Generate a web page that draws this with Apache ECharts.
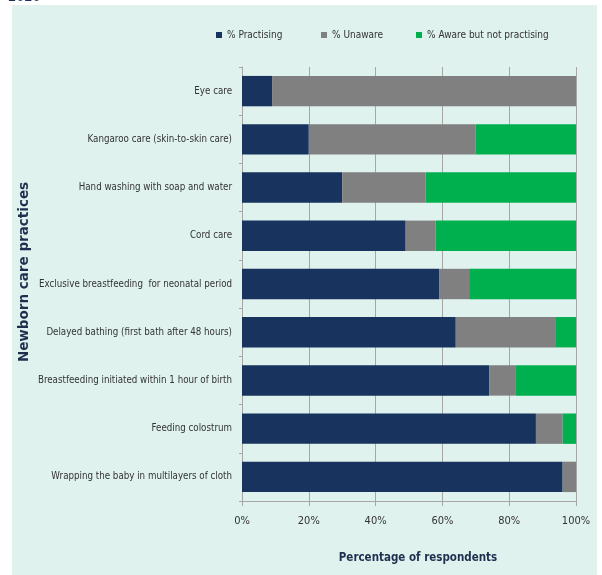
<!DOCTYPE html>
<html><head><meta charset="utf-8">
<script src="https://cdn.jsdelivr.net/npm/echarts@6/dist/echarts.min.js"></script>
<style>html,body{margin:0;padding:0;background:#fff}#c{width:602px;height:575px}</style>
</head><body><div id="c"></div>
<script>
const categories = [
  "Eye care",
  "Kangaroo care (skin-to-skin care)",
  "Hand washing with soap and water",
  "Cord care",
  "Exclusive breastfeeding  for neonatal period",
  "Delayed bathing (first bath after 48 hours)",
  "Breastfeeding initiated within 1 hour of birth",
  "Feeding colostrum",
  "Wrapping the baby in multilayers of cloth"
];
const practising = [9, 20, 30, 49, 59, 64, 74, 88, 96];
const unaware = [91, 50, 25, 9, 9, 30, 8, 8, 4];
const awareNotPractising = [0, 30, 45, 42, 32, 6, 18, 4, 0];
const xTicks = ["0%", "20%", "40%", "60%", "80%", "100%"];
const seriesNames = ['% Practising', '% Unaware', '% Aware but not practising'];

const FONT = "'DejaVu Sans Condensed','Liberation Sans Narrow',Arial,sans-serif";
const legendLefts = [211, 316, 411];
const chart = echarts.init(document.getElementById('c'), null, {renderer: 'canvas'});
chart.setOption({
  animation: false,
  backgroundColor: '#ffffff',
  graphic: [
    {type: 'rect', left: 12, top: 5, shape: {width: 585, height: 570}, style: {fill: '#dff2ee'}, z: -10},
    {type: 'text', left: 8, top: -9, style: {text: '2020', fill: '#1f2f5a', font: 'bold 13px ' + FONT}}
  ],
  legend: seriesNames.map((n, i) => ({
    top: 25, left: legendLefts[i],
    itemWidth: 6, itemHeight: 6, itemGap: 5,
    icon: 'rect',
    textStyle: {fontFamily: FONT, fontSize: 10, color: '#333'},
    data: [n]
  })),
  grid: {left: 242, right: 26, top: 67, bottom: 74, containLabel: false, outerBoundsMode: 'none'},
  xAxis: {
    type: 'value', min: 0, max: 100, interval: 20,
    axisLine: {show: true, lineStyle: {color: '#a6a6a6'}},
    axisTick: {show: true, length: 5, lineStyle: {color: '#a6a6a6'}},
    splitLine: {show: true, lineStyle: {color: '#a6a6a6', width: 1}},
    axisLabel: {formatter: v => xTicks[v / 20], fontFamily: FONT, fontSize: 11, color: '#333', margin: 15},
    name: 'Percentage of respondents', nameLocation: 'middle', nameGap: 51,
    nameTextStyle: {fontFamily: FONT, fontSize: 11.5, fontWeight: 'bold', color: '#1f2f4f', padding: [0, 0, 0, 18]}
  },
  yAxis: {
    type: 'category', inverse: true, data: categories,
    axisLine: {show: true, lineStyle: {color: '#a6a6a6'}},
    axisTick: {show: true, length: 3, lineStyle: {color: '#a6a6a6'}},
    axisLabel: {fontFamily: FONT, fontSize: 9.7, color: '#333', margin: 10},
    name: 'Newborn care practices', nameLocation: 'middle', nameGap: 211, nameRotate: 90,
    nameMoveOverlap: false,
    nameTextStyle: {fontFamily: "'DejaVu Sans',sans-serif", fontSize: 13.5, fontWeight: 'bold', color: '#1f2f4f', padding: [0, 0, 0, 24]}
  },
  series: [
    {name: seriesNames[0], type: 'bar', stack: 's', data: practising, barWidth: '63%', itemStyle: {color: '#17335e'}},
    {name: seriesNames[1], type: 'bar', stack: 's', data: unaware, itemStyle: {color: '#808080'}},
    {name: seriesNames[2], type: 'bar', stack: 's', data: awareNotPractising, itemStyle: {color: '#00b04f'}}
  ]
});
</script></body></html>
